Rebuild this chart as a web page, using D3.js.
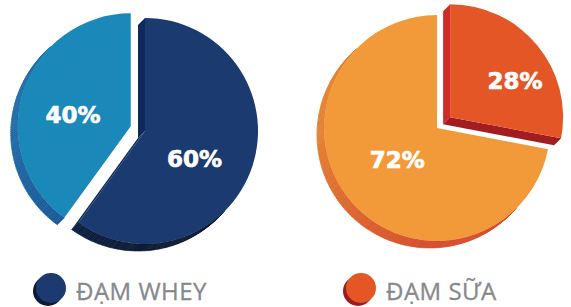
<!DOCTYPE html>
<html>
<head>
<meta charset="utf-8">
<script src="https://cdn.jsdelivr.net/npm/d3@7"></script>
<style>
  body { margin: 0; background: #fff; }
  svg { display: block; }
</style>
</head>
<body>
<div id="figure-div"></div>
<script>
// values
var wheyValues = [60, 40];          // navy, light blue
var suaValues = [28, 72];           // red-orange, orange
var legendLabels = ["ĐẠM WHEY", "ĐẠM SỮA"];

var w = 571;
var h = 307;
var r = 113;
var depth = [-7, 7];   // extrusion of the fake 3d side

// per pie layout and colours
var pies = [
  { values: wheyValues, cx: 145, cy: 131, explode: 1, explodeDist: 15,
    top:   ["#1b3a6f", "#1a88b8"],
    sideL: ["#10295a", "#1e6aa6"],
    sideB: ["#081830", "#154d8c"],
    label: [[0.5, 11], [0.52, -7]] },
  { values: suaValues, cx: 437, cy: 128, explode: 0, explodeDist: 17,
    top:   ["#e45625", "#f29a39"],
    sideL: ["#d02b29", "#e2802f"],
    sideB: ["#9c1b20", "#d5492a"],
    label: [[0.66, 10], [0.45, 1]] }
];

var svg = d3.select("#figure-div").append("svg")
  .attr("width", w)
  .attr("height", h);

var toRad = Math.PI / 180;

function pt(cx, cy, rad, a) {
  return [cx + rad * Math.sin(a), cy - rad * Math.cos(a)];
}

// shade of a side face from its outward normal angle (radians, d3 convention)
function shade(i, p, a) {
  var deg = ((a / toRad) % 360 + 360) % 360;
  var t;
  if (deg >= 270) t = 0;
  else if (deg <= 180) t = 1;
  else t = (270 - deg) / 90;
  return d3.interpolateRgb(p.sideL[i], p.sideB[i])(t);
}

function visible(a) {
  return Math.sin(a) * depth[0] - Math.cos(a) * depth[1] > 0;
}

var pie = d3.pie().sort(null).value(function(d) { return d; });

pies.forEach(function(p) {
  var arcs = pie(p.values);
  var g = svg.append("g");
  var sides = g.append("g");
  var tops = g.append("g");

  arcs.forEach(function(d, i) {
    var mid = (d.startAngle + d.endAngle) / 2;
    var cx = p.cx, cy = p.cy;
    if (i == p.explode) {
      cx += p.explodeDist * Math.sin(mid);
      cy -= p.explodeDist * Math.cos(mid);
    }

    // outer rim, drawn in thin strips so the shade can change
    var step = 1 * toRad;
    for (var a = d.startAngle; a < d.endAngle - 1e-6; a += step) {
      var b = Math.min(a + step, d.endAngle);
      var m = (a + b) / 2;
      if (!visible(m)) continue;
      var p1 = pt(cx, cy, r, a), p2 = pt(cx, cy, r, b);
      var col = shade(i, p, m);
      sides.append("path")
        .attr("d", "M" + p1 + "L" + p2 + "L" + [p2[0] + depth[0], p2[1] + depth[1]] +
                   "L" + [p1[0] + depth[0], p1[1] + depth[1]] + "Z")
        .attr("fill", col)
        .attr("stroke", col)
        .attr("stroke-width", 0.6);
    }

    // straight faces
    [[d.startAngle, d.startAngle - Math.PI / 2], [d.endAngle, d.endAngle + Math.PI / 2]].forEach(function(e) {
      if (!visible(e[1])) return;
      var q = pt(cx, cy, r, e[0]);
      sides.append("path")
        .attr("d", "M" + [cx, cy] + "L" + q + "L" + [q[0] + depth[0], q[1] + depth[1]] +
                   "L" + [cx + depth[0], cy + depth[1]] + "Z")
        .attr("fill", shade(i, p, e[1]));
    });

    var arc = d3.arc().innerRadius(0).outerRadius(r);
    tops.append("path")
      .attr("transform", "translate(" + cx + "," + cy + ")")
      .attr("d", arc(d))
      .attr("fill", p.top[i]);

    var la = mid + p.label[i][1] * toRad;
    var lp = pt(cx, cy, r * p.label[i][0], la);
    tops.append("text")
      .attr("x", lp[0])
      .attr("y", lp[1])
      .attr("dy", "0.36em")
      .attr("text-anchor", "middle")
      .attr("fill", "#fff")
      .attr("stroke", "#fff")
      .attr("stroke-width", 0.7)
      .style("font-family", "'DejaVu Sans', sans-serif")
      .style("font-weight", "bold")
      .style("font-size", "23px")
      .text(d.data + "%");
  });
});

// legend
var legendX = [51, 361];
var legendColors = [["#1b3a6f", "#0b1b38"], ["#e45625", "#9c1b20"]];
var legend = svg.selectAll("g.legend")
  .data(legendLabels)
  .enter()
  .append("g")
  .attr("class", "legend")
  .attr("transform", function(d, i) { return "translate(" + legendX[i] + ",288)"; });

legend.append("circle")
  .attr("cx", -3)
  .attr("cy", 3)
  .attr("r", 15)
  .attr("fill", function(d, i) { return legendColors[i][1]; });

legend.append("circle")
  .attr("r", 15)
  .attr("fill", function(d, i) { return legendColors[i][0]; });

legend.append("text")
  .attr("x", 25)
  .attr("y", 12)
  .attr("fill", "#86898c")
  .attr("stroke", "#86898c")
  .attr("stroke-width", 0.3)
  .style("font-family", "'Open Sans', sans-serif")
  .style("font-size", "24px")
  .style("letter-spacing", "0.5px")
  .text(function(d) { return d; });
</script>
</body>
</html>
